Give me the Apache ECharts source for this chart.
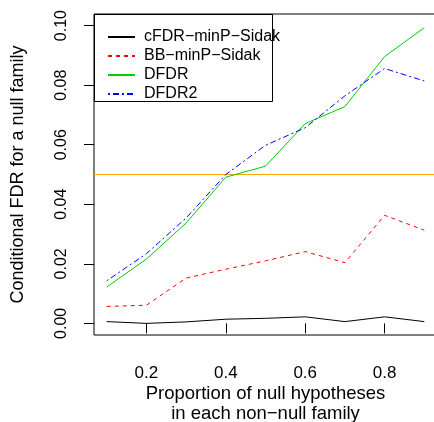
<!DOCTYPE html>
<html>
<head>
<meta charset="utf-8">
<script src="https://cdn.jsdelivr.net/npm/echarts@6/dist/echarts.min.js"></script>
<style>
  html, body { margin: 0; padding: 0; background: #fff; }
  #chart { width: 434px; height: 422px; }
</style>
</head>
<body>
<div id="chart"></div>
<script>
// proportion of null hypotheses
var props = [0.1, 0.2, 0.3, 0.4, 0.5, 0.6, 0.7, 0.8, 0.9];
var cfdr = [0.0006, 0.0000, 0.0005, 0.0014, 0.0017, 0.0022, 0.0006, 0.0022, 0.0006];
var bb = [0.0057, 0.0061, 0.0152, 0.0182, 0.0210, 0.0241, 0.0204, 0.0363, 0.0313];
var dfdr = [0.0122, 0.0216, 0.0337, 0.0491, 0.0528, 0.0671, 0.0728, 0.0896, 0.0993];
var dfdr2 = [0.0143, 0.0234, 0.0354, 0.0500, 0.0598, 0.0657, 0.0764, 0.0856, 0.0814];
var xTicks = [0.2, 0.4, 0.6, 0.8];
var yTicks = [0, 0.02, 0.04, 0.06, 0.08, 0.10];
var target = 0.05;

// axis ranges (R style 4% padding)
var xMin = 0.068, xMax = 0.932;
var yMin = -0.0039, yMax = 0.1039;

var FONT = 'Liberation Sans, Arial, Helvetica, sans-serif';

function pairs(ys){
	var out = [];
	for(var i=0;i<props.length;i++){
		out.push([props[i], ys[i]]);
	}
	return out;
}

function mkSeries(name, ys, color, type){
	return {
		name: name,
		type: 'line',
		data: ys ? pairs(ys) : [],
		symbol: 'none',
		showSymbol: false,
		silent: true,
		lineStyle: { color: color, width: 1, type: type },
		itemStyle: { color: color },
	};
}

var chart = echarts.init(document.getElementById('chart'), null, {renderer: 'canvas'});
var series = [
	mkSeries('cFDR\u2212minP\u2212Sidak', cfdr, '#000000', 'solid'),
	mkSeries('BB\u2212minP\u2212Sidak', bb, '#FF0000', [4, 4]),
	mkSeries('DFDR', dfdr, '#00CD00', 'solid'),
	mkSeries('DFDR2', dfdr2, '#0000FF', [2, 3, 6, 3]),
];
// abline(h = target), across the whole plot
var ref = mkSeries('target', null, '#FFA500', 'solid');
ref.data = [[xMin, target], [xMax, target]];
ref.z = 1;
series.push(ref);

var option = {
	animation: false,
	backgroundColor: '#fff',
	grid: {
		left: 94, top: 14, width: 343, height: 321,
		outerBoundsMode: 'none',
		containLabel: false,
		show: true, borderColor: '#000', borderWidth: 1, backgroundColor: 'transparent',
	},
	xAxis: {
		type: 'value',
		min: xMin, max: xMax,
		name: 'Proportion of null hypotheses\nin each non\u2212null family',
		nameLocation: 'middle',
		nameGap: 49,
		nameMoveOverlap: false,
		nameTextStyle: { fontFamily: FONT, fontSize: 18.5, color: '#000', lineHeight: 20 },
		axisLine: { show: false },
		splitLine: { show: false },
		axisTick: { show: true, inside: false, length: 10, lineStyle: { color: '#000' }, customValues: xTicks },
		axisLabel: { fontFamily: FONT, fontSize: 17, color: '#000', margin: 30, customValues: xTicks,
			formatter: function(v){ return v.toFixed(1); } },
	},
	yAxis: {
		type: 'value',
		min: yMin, max: yMax,
		name: 'Conditional FDR for a null family',
		nameLocation: 'middle',
		nameGap: 67,
		nameMoveOverlap: false,
		nameTextStyle: { fontFamily: FONT, fontSize: 18, color: '#000' },
		axisLine: { show: false },
		splitLine: { show: false },
		axisTick: { show: true, inside: false, length: 10, lineStyle: { color: '#000' }, customValues: yTicks },
		axisLabel: { fontFamily: FONT, fontSize: 16, color: '#000', rotate: 90, margin: 24, customValues: yTicks,
			formatter: function(v){ return v.toFixed(2); } },
	},
	legend: {
		orient: 'vertical',
		left: 102, top: 24,
		itemWidth: 27, itemHeight: 14, itemGap: 3,
		selectedMode: false,
		itemStyle: { opacity: 0 },
		textStyle: { fontFamily: FONT, fontSize: 16, color: '#000', lineHeight: 15, padding: [0, 0, 0, 4] },
		data: series.slice(0, 4).map(function(s){ return s.name; }),
	},
	graphic: [{
		type: 'rect',
		silent: true,
		shape: { x: 94.5, y: 14.5, width: 178, height: 87 },
		style: { fill: 'none', stroke: '#000', lineWidth: 1 },
	}],
	series: series,
};
chart.setOption(option);
</script>
</body>
</html>
